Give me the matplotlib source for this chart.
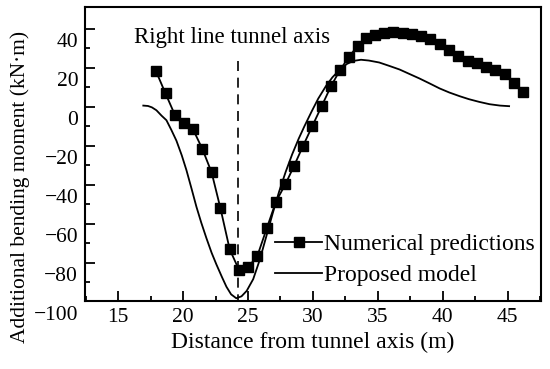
import matplotlib
matplotlib.use("Agg")
import matplotlib.pyplot as plt
from matplotlib.transforms import ScaledTranslation

plt.rcParams['font.family'] = ['Liberation Serif', 'DejaVu Serif']

# numerical predictions (squares)
num_x = [17.92, 18.65, 19.36, 20.05, 20.77, 21.49, 22.2, 22.88, 23.59, 24.31,
         25.0, 25.72, 26.44, 27.15, 27.88, 28.54, 29.23, 29.95, 30.67, 31.38,
         32.07, 32.77, 33.44, 34.1, 34.8, 35.49, 36.2, 36.9, 37.6, 38.3,
         39.0, 39.8, 40.5, 41.2, 41.9, 42.6, 43.3, 44.05, 44.75, 45.5, 46.2]
num_y = [28.1, 16.7, 5.9, 1.6, -1.7, -11.8, -23.8, -42.2, -63.2, -73.8,
         -72.4, -66.6, -52.5, -38.8, -29.8, -20.5, -10.3, 0.0, 10.2, 20.3,
         28.6, 35.5, 41.1, 44.9, 46.7, 47.7, 48.1, 47.9, 47.2, 46.1,
         44.4, 42.3, 39.2, 35.8, 33.4, 32.1, 30.3, 28.6, 26.6, 22.1, 17.5]

# proposed model
mod_x = [16.94, 17.3, 17.6, 17.95, 18.35, 18.72, 19.1, 19.49, 19.9, 20.26,
         20.65, 21.03, 21.4, 21.8, 22.2, 22.57, 23.0, 23.34, 23.7, 24.1,
         24.5, 24.9, 25.4, 25.9, 26.4, 26.9, 27.4, 27.9, 28.4, 28.9,
         29.35, 29.9, 30.4, 31.0, 31.5, 32.05, 32.6, 33.1, 33.7, 34.3,
         35.1, 35.9, 36.67, 37.4, 38.2, 39.0, 39.75, 40.5, 41.3, 42.0,
         42.8, 43.6, 44.4, 45.1]
mod_y = [10.5, 10.3, 9.6, 8.1, 5.3, 3.0, -2.0, -7.5, -15.0, -22.6,
         -32.0, -41.4, -49.5, -57.5, -65.0, -71.0, -77.5, -82.4, -86.3, -88.3,
         -87.3, -84.5, -78.5, -68.7, -56.8, -44.8, -33.5, -23.5, -14.5, -6.5,
         0.0, 7.5, 14.0, 20.5, 25.0, 28.8, 31.8, 33.4, 34.0, 33.6,
         32.6, 30.8, 29.0, 26.8, 24.4, 21.8, 19.3, 17.2, 15.3, 13.8,
         12.4, 11.2, 10.5, 10.2]

axis_x = 24.2
x_ticks = [15, 20, 25, 30, 35, 40, 45]
y_long_ticks = [50, 30, 10, -10, -30, -50, -70]
y_short_ticks = [40, 20, 0, -20, -40, -60, -80]
y_labels = [40, 20, 0, -20, -40, -60, -80, -100]

fig = plt.figure(figsize=(5.5, 3.69), dpi=100)
ax = fig.add_axes([0.1545, 0.1843, 0.829, 0.7954])

ax.plot(num_x, num_y, color='black', lw=1.3, marker='s', ms=6.8,
        label='Numerical predictions')
ax.plot(mod_x, mod_y, color='black', lw=1.3, label='Proposed model')
ax.vlines(axis_x, -100, 34.3, colors='black', linestyles=(0, (6, 4)), lw=1.2)
ax.text(23.8, 45.5, 'Right line tunnel axis', fontsize=16.5, ha='center', va='center')

ax.set_xlim(12.45, 47.55)
ax.set_ylim(-89.7, 60.8)

ax.set_xticks(x_ticks)
ax.set_xticks([x + 2.5 for x in x_ticks[:-1]] + [12.5, 47.5], minor=True)
ax.set_yticks(y_long_ticks, labels=[''] * len(y_long_ticks))
ax.set_yticks(y_short_ticks, minor=True)
ax.tick_params(which='both', direction='in', width=1.3, top=False, right=False)
ax.tick_params(which='major', length=7)
ax.tick_params(which='minor', length=3.5)
ax.tick_params(axis='x', labelsize=15.5, pad=5)
for s in ax.spines.values():
    s.set_linewidth(1.5)

# y labels sit slightly above their ticks in the original figure
shift = ScaledTranslation(0, 4 / 72, fig.dpi_scale_trans)
ytrans = ax.get_yaxis_transform() + shift
for v in y_labels:
    ax.text(-0.015, v, str(v).replace('-', '\u2212'), transform=ytrans,
            ha='right', va='center', fontsize=15.5, clip_on=False)

ax.set_xlabel('Distance from tunnel axis (m)', fontsize=17)
ax.xaxis.set_label_coords(0.5, -0.105)
ax.set_ylabel('Additional bending moment (kN\u00b7m)', fontsize=15.5)
ax.yaxis.set_label_coords(-0.12, 0.39)

ax.legend(loc='upper left', bbox_to_anchor=(0.417, 0.23), frameon=False,
          fontsize=17, handlelength=2.0, handletextpad=0.05,
          labelspacing=0.4, borderpad=0, borderaxespad=0)

fig.savefig('out.png', dpi=100)
